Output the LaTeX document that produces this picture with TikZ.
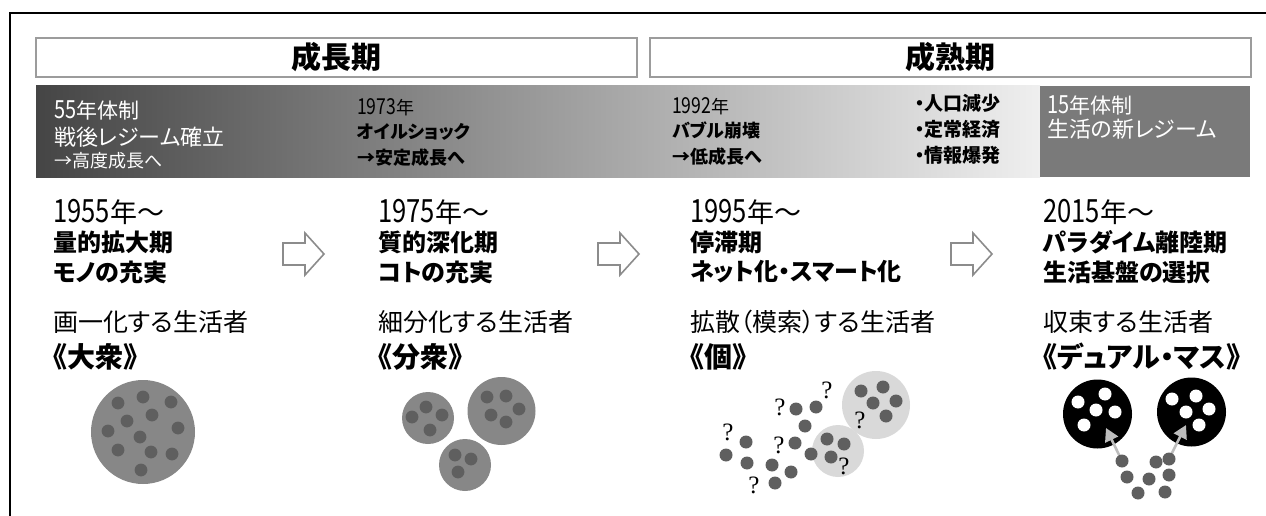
\documentclass[tikz,border=0pt]{standalone}
\usepackage{fontspec}
\newfontfamily\jp[RawFeature=+palt]{Noto Sans CJK JP}
\newfontfamily\jpn[FakeStretch=0.8]{Noto Sans CJK JP}
\newfontfamily\qfont{Liberation Serif}
\usetikzlibrary{arrows.meta}
\newcommand\fsz[1]{\fontsize{#1}{#1}\selectfont}
\newcommand\dg[2]{{\jpn\fontsize{#1}{#1}\selectfont #2}}
\definecolor{boxline}{HTML}{9C9C9C}
\definecolor{bandA}{HTML}{454545}
\definecolor{bandB}{HTML}{C2C2C2}
\definecolor{bandC}{HTML}{EFEFEF}
\definecolor{darkbox}{HTML}{7A7A7A}
\definecolor{arrowline}{HTML}{8C8C8C}
\definecolor{massfill}{HTML}{878787}
\definecolor{dotfill}{HTML}{5F5F5F}
\definecolor{lightfill}{HTML}{D9D9D9}
\definecolor{convarrow}{HTML}{BDBDBD}
\tikzset{
  titlebox/.style={draw=boxline, line width=1.5pt, fill=white, inner sep=0pt, font=\jp\bfseries\fsz{30}},
  txt/.style={anchor=west, inner sep=0pt, font=\jp},
  wtxt/.style={txt, text=white},
  hollow/.style={draw=arrowline, line width=1.6pt, fill=white, line join=miter},
  mass/.style={circle, fill=massfill, inner sep=0pt},
  light/.style={circle, fill=lightfill, inner sep=0pt},
  blackmass/.style={circle, fill=black, inner sep=0pt},
  qm/.style={inner sep=0pt, font=\qfont\fsz{25}},
  conv/.style={draw=convarrow, line width=2.6pt, -{Triangle[width=14pt,length=13pt]}},
}
\begin{document}
\begin{tikzpicture}[x=1pt,y=-1pt]
\useasboundingbox (0,0) rectangle (1266,516);
% frame
\draw[line width=2pt] (9.5,516) -- (9.5,13) -- (1266,13);
% title boxes
\node[titlebox, minimum width=601pt, minimum height=39pt] (t1) at (336.5,57.5) {成長期};
\node[titlebox, minimum width=601pt, minimum height=39pt] (t2) at (950.5,57.5) {成熟期};
% band
\shade[left color=bandA, middle color=bandB, right color=bandC] (36,86) rectangle (1040,177);
\fill[darkbox] (1040,86) rectangle (1250,177);
% band texts
\node[wtxt, font=\jp\fsz{21}] (b1a) at (54,110) {\dg{25}{55}年体制};
\node[wtxt, font=\jp\fsz{22}] (b1b) at (54,137) {戦後レジーム確立};
\node[wtxt, font=\jp\fsz{18}] (b1c) at (54,161) {→高度成長へ};
\node[txt, font=\jp\fsz{18}] (b2a) at (357,107) {\dg{22}{1973}年};
\node[txt, font=\jp\bfseries\fsz{18}] (b2b) at (357,132) {オイルショック};
\node[txt, font=\jp\bfseries\fsz{18}] (b2c) at (357,158) {→安定成長へ};
\node[txt, font=\jp\fsz{18}] (b3a) at (672,106) {\dg{22}{1992}年};
\node[txt, font=\jp\bfseries\fsz{18}] (b3b) at (672,131) {バブル崩壊};
\node[txt, font=\jp\bfseries\fsz{18}] (b3c) at (672,157) {→低成長へ};
\node[txt, font=\jp\bfseries\fsz{19}] (b4a) at (915,103) {・人口減少};
\node[txt, font=\jp\bfseries\fsz{19}] (b4b) at (915,129) {・定常経済};
\node[txt, font=\jp\bfseries\fsz{19}] (b4c) at (915,155) {・情報爆発};
\node[wtxt, font=\jp\fsz{21}] (b5a) at (1047,105) {\dg{25}{15}年体制};
\node[wtxt, font=\jp\fsz{22}] (b5b) at (1047,129) {生活の新レジーム};
% hollow arrows
\foreach \ax in {283,598,951}{
  \draw[hollow, shift={(\ax,0)}] (0,243) -- (22,243) -- (22,233) -- (41,254) -- (22,275) -- (22,265) -- (0,265) -- cycle;
}
% column texts
\foreach \cx/\n/\ya/\yb/\yc/\yd/\ye in {
  53/1/1955/量的拡大期/モノの充実/画一化する生活者/《大衆》,
  378/2/1975/質的深化期/コトの充実/細分化する生活者/《分衆》,
  690/3/1995/停滞期/ネット化・スマート化/拡散（模索）する生活者/《個》,
  1043/4/2015/パラダイム離陸期/生活基盤の選択/収束する生活者/《デュアル・マス》}{
  \node[txt, font=\jp\fsz{27}] (y\n) at (\cx,212) {\dg{32}{\ya}年〜};
  \node[txt, font=\jp\bfseries\fsz{24}] (p\n) at (\cx,242) {\yb};
  \node[txt, font=\jp\bfseries\fsz{24}] (q\n) at (\cx,272) {\yc};
  \node[txt, font=\jp\fsz{25}] (s\n) at (\cx,322) {\yd};
  \node[txt, font=\jp\bfseries\fsz{28}] (m\n) at (\cx,357) {\ye};
}
% col1 mass
\node[mass, minimum size=104pt] (c1) at (143,432) {};
\foreach \p in {(118,403),(143,397),(171,402),(127,421),(152,415),(108,431),(178,428),(140,437),(118,450),(151,452),(172,454),(141,470)}
  \fill[dotfill] \p circle (6.4);
% col2 segmented masses
\node[mass, minimum size=52pt] (c2a) at (428,418) {};
\node[mass, minimum size=68pt] (c2b) at (501.5,411) {};
\node[mass, minimum size=52pt] (c2c) at (465,465) {};
\foreach \p in {(426,407),(412,417),(442,415),(430,430),(487,397),(506,396),(519,409),(491,415),(506,422),(455,455),(471,459),(458,472)}
  \fill[dotfill] \p circle (6.4);
% col3 individuals
\node[light, minimum size=68pt] (c3a) at (876,405) {};
\node[light, minimum size=52pt] (c3b) at (838,451) {};
\foreach \p in {(861,391),(883,387),(873,403),(896,401),(886,416),(827,439),(844,444),(831,457),(796,409),(816,407),(805,426),(795,443),(811,454),(746,442),(726,455),(747,463),(772,465),(791,472),(775,483)}
  \fill[dotfill] \p circle (6.5);
\foreach \p/\k in {(827,390)/1,(780,407)/2,(728,432)/3,(779,445)/4,(754,485)/5,(860,420)/6,(844,466)/7}
  \node[qm] (qm\k) at \p {?};
% col4 dual mass
\node[blackmass, minimum size=69pt] (c4a) at (1097.5,414) {};
\node[blackmass, minimum size=69pt] (c4b) at (1191.5,412) {};
\foreach \p in {(1078,402),(1105,394),(1096,410),(1115,412),(1084,425),(1172,399),(1196,396),(1209,409),(1186,412),(1199,425)}
  \fill[white] \p circle (6.5);
\coordinate (tipA) at (1106,428);
\coordinate (tipB) at (1186,425);
\node[circle, inner sep=0pt, minimum size=13pt] (g1) at (1122,461) {};
\node[circle, inner sep=0pt, minimum size=13pt] (g6) at (1169,459) {};
\draw[conv] (g1.center) -- (tipA);
\draw[conv] (g6.center) -- (tipB);
\foreach \p in {(1122,461),(1127,477),(1138,493),(1149,479),(1156,462),(1169,459),(1169,475),(1165,492)}
  \fill[dotfill] \p circle (6.5);
\end{tikzpicture}
\end{document}
